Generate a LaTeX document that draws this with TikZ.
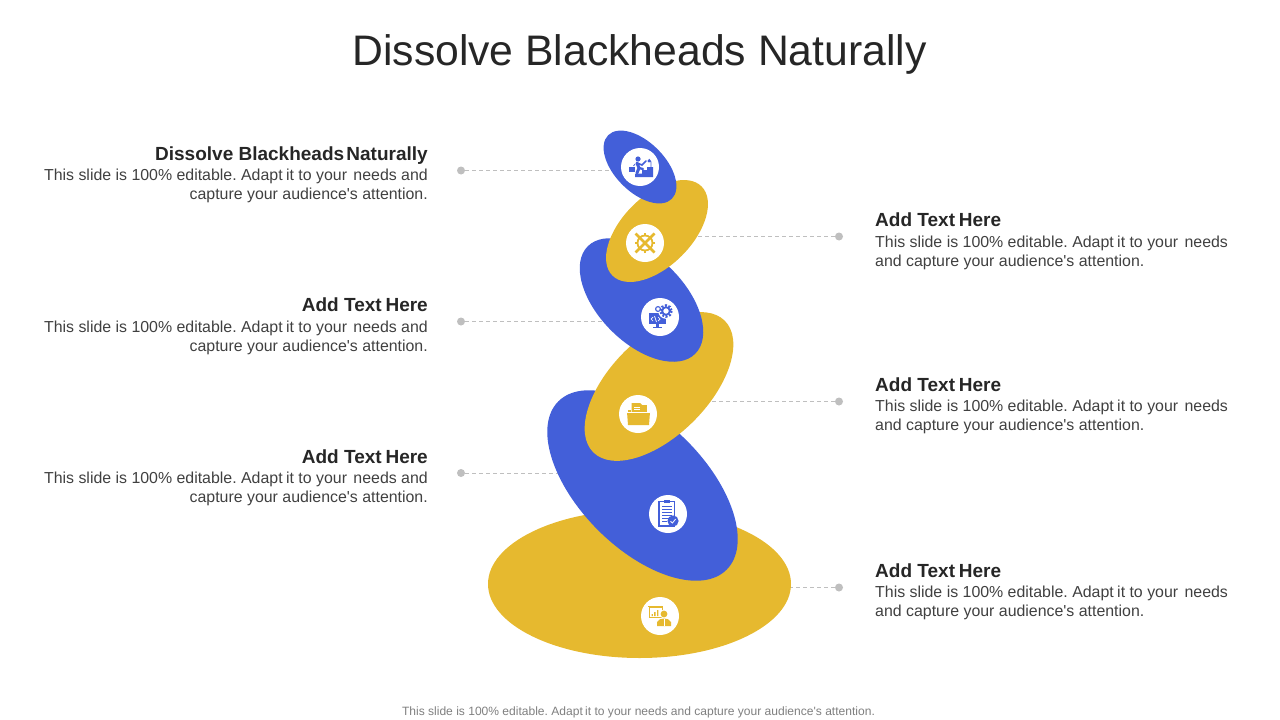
\documentclass[tikz,border=0pt]{standalone}
\usepackage{fontspec}
\setmainfont{Liberation Sans}
\newfontfamily\lib{Liberation Sans}
\usetikzlibrary{shapes.geometric,backgrounds}
\definecolor{bl}{HTML}{435FD9}
\definecolor{gd}{HTML}{E6B92F}
\definecolor{dotc}{HTML}{BFBFBF}
\definecolor{tit}{HTML}{262626}
\definecolor{bod}{HTML}{404040}
\definecolor{foot}{HTML}{7F7F7F}
\tikzset{
 blob/.style={ellipse,draw=none,inner sep=0pt,outer sep=0pt},
 disc/.style={circle,fill=white,draw=none,minimum size=38pt,inner sep=0pt},
 dotn/.style={circle,fill=dotc,draw=none,minimum size=8pt,inner sep=0pt},
 lead/.style={draw=dotc,line width=.8pt,dash pattern=on 4pt off 3pt},
 headl/.style={font=\lib\fontsize{19}{20}\selectfont\bfseries,text=tit,anchor=base east,inner sep=0pt},
 headr/.style={font=\lib\fontsize{19}{20}\selectfont\bfseries,text=tit,anchor=base west,inner sep=0pt},
 bodyl/.style={font=\lib\fontsize{15.9}{19.5}\selectfont\frenchspacing,text=bod,anchor=north east,align=right,inner sep=0pt},
 bodyr/.style={font=\lib\fontsize{15.9}{19.5}\selectfont\frenchspacing,text=bod,anchor=north west,align=left,inner sep=0pt},
}
\newcommand{\lineA}{This slide is 100\% editable. Adapt\kern-1pt{} it to your\kern2pt{} needs}
\newcommand{\hdr}{Add Text\kern-1.5pt{} Here}
\newcommand{\iconclimb}[1]{\begin{scope}[shift={(#1)},x=1pt,y=-1pt]
 \fill[bl] (-5,10)--(13,10)--(13,0)--(7,0)--(7,3)--(2,3)--(2,6.5)--(-5,6.5)--cycle;
 \fill[bl] (-2,-8) circle (2.6);
 \draw[bl,line width=3pt,line cap=round] (-3,-4)--(-1,1)--(-3,6);
 \draw[bl,line width=2.2pt,line cap=round] (-1,1)--(3,2);
 \draw[bl,line width=1.6pt,line cap=round] (-3,-4)--(2,-2)--(6,-6);
 \fill[bl] (-11,0) rectangle (-5,5);
 \draw[bl,line width=.8pt] (-6.5,-1)--(-5,-3);
 \fill[bl] (9,-6) circle (1.6);
 \draw[bl,line width=.9pt] (9,-8)--(11,-5)--(11,0);
\end{scope}}
\newcommand{\iconwheel}[1]{\begin{scope}[shift={(#1)},x=1pt,y=-1pt]
 \draw[gd,line width=1.8pt] (0,0) circle (7.5);
 \draw[gd,line width=2.6pt] (-9.5,-9.5)--(9.5,9.5) (9.5,-9.5)--(-9.5,9.5);
 \draw[gd,line width=2.2pt] (0,-10)--(0,-7.5) (0,10)--(0,7.5) (-10,0)--(-7.5,0) (10,0)--(7.5,0);
\end{scope}}
\newcommand{\iconcode}[1]{\begin{scope}[shift={(#1)},x=1pt,y=-1pt]
 \fill[bl] (-11,-4) rectangle (6,7);
 \fill[bl] (-4,7) rectangle (-1,9.5);
 \fill[bl] (-7,9.5) rectangle (2,10.7);
 \draw[white,line width=.7pt] (-7,0)--(-9,2)--(-7,4) (-2,0)--(0,2)--(-2,4) (-3.5,5)--(-5.5,-1);
 \fill[white] (6,-6) circle (7.8);
 \draw[bl,line width=2.8pt,dash pattern=on 1.8pt off 1.6pt] (6,-6) circle (5.4);
 \draw[bl,line width=1.8pt] (6,-6) circle (3.8);
 \draw[bl,line width=1.1pt] (-2,-8) circle (2.4);
\end{scope}}
\newcommand{\iconfolder}[1]{\begin{scope}[shift={(#1)},x=1pt,y=-1pt]
 \fill[gd] (-10,-4) rectangle (-7,6);
 \fill[gd] (-6.5,-11)--(2,-11)--(6,-7)--(6,-2)--(-6.5,-2)--cycle;
 \draw[white,line width=.7pt] (-4,-7)--(3,-7) (-4,-4.5)--(3,-4.5);
 \fill[gd] (2,-9) rectangle (9,-2);
 \fill[gd] (-11,-2)--(12,-2)--(11,11)--(-10,11)--cycle;
 \draw[white,line width=.7pt] (-11,-2)--(12,-2);
\end{scope}}
\newcommand{\iconclip}[1]{\begin{scope}[shift={(#1)},x=1pt,y=-1pt]
 \draw[bl,line width=1.5pt,fill=white] (-9,-12.5) rectangle (6.5,12);
 \fill[bl] (-4.5,-14.5) rectangle (2,-11);
 \draw[bl,line width=.9pt] (-6,-8)--(4,-8) (-6,-5)--(4,-5) (-6,-2)--(4,-2) (-6,1)--(4,1) (-6,4)--(1,4) (-6,7)--(-1,7);
 \fill[bl] (5,7) circle (5.6);
 \draw[white,line width=.8pt] (2.5,7.3)--(4.4,9)--(7.6,5);
\end{scope}}
\newcommand{\iconboard}[1]{\begin{scope}[shift={(#1)},x=1pt,y=-1pt]
 \draw[gd,line width=1pt] (-11,-9) rectangle (2,1);
 \fill[gd] (-12,-10.5) rectangle (3,-9);
 \fill[gd] (-8.5,-2) rectangle (-7.2,0) (-5.8,-4) rectangle (-4.5,0) (-3,-6) rectangle (-1.7,0);
 \fill[white] (4,-2) circle (4.4);
 \fill[gd] (4,-2) circle (3.4);
 \fill[gd] (-3,10)--(-3,6)..controls (-2,3.5) and (1,2.5) .. (4,2.5)..controls (7,2.5) and (10,3.5) .. (11,6)--(11,10)--cycle;
 \draw[white,line width=.7pt] (4,3)--(4,10);
\end{scope}}
\begin{document}
\begin{tikzpicture}[x=1pt,y=-1pt]
\useasboundingbox (0,0) rectangle (1280,720);
\node[inner sep=0pt,font=\lib\fontsize{42.7}{46}\selectfont,text=tit,anchor=base] (title) at (639.5,65) {Dissolve Blackheads Naturally};
% blobs, bottom to top
\node[blob,fill=gd,minimum width=303pt,minimum height=148pt] (e6) at (639.5,584) {};
\node[blob,fill=bl,minimum width=238pt,minimum height=126pt,rotate=-45] (e5) at (642.5,485.5) {};
\node[blob,fill=gd,minimum width=186pt,minimum height=98pt,rotate=45] (e4) at (659,386.5) {};
\node[blob,fill=bl,minimum width=152pt,minimum height=86pt,rotate=-45] (e3) at (641.5,300) {};
\node[blob,fill=gd,minimum width=126pt,minimum height=70pt,rotate=45] (e2) at (657,231) {};
\node[blob,fill=bl,minimum width=90pt,minimum height=50pt,rotate=-45] (e1) at (640,167) {};
% icon discs
\node[disc] (c1) at (640,167) {};
\node[disc] (c2) at (645,243) {};
\node[disc] (c3) at (660,317) {};
\node[disc] (c4) at (638,414) {};
\node[disc] (c5) at (668,514) {};
\node[disc] (c6) at (660,616) {};
\iconclimb{c1}
\iconwheel{c2}
\iconcode{c3}
\iconfolder{c4}
\iconclip{c5}
\iconboard{c6}
% leaders
\node[dotn] (d1) at (461,170.5) {};
\node[dotn] (d2) at (839,236.5) {};
\node[dotn] (d3) at (461,321.5) {};
\node[dotn] (d4) at (839,401.5) {};
\node[dotn] (d5) at (461,473) {};
\node[dotn] (d6) at (839,587.5) {};
\begin{pgfonlayer}{background}
\draw[lead] (d1) -- (d1 -| e1);
\draw[lead] (d2) -- (d2 -| e2);
\draw[lead] (d3) -- (d3 -| e3);
\draw[lead] (d4) -- (d4 -| e4);
\draw[lead] (d5) -- (d5 -| e5);
\draw[lead] (d6) -- (d6 -| e6);
\end{pgfonlayer}
% texts
\node[headl] (h1) at (428,160.5) {Dissolve Blackheads\kern-3pt{} Naturally};
\node[bodyl] (b1) at (428,168.5) {\lineA{} and\\capture your audience's attention.};
\node[headl] (h3) at (428,311.5) {\hdr};
\node[bodyl] (b3) at (428,320.5) {\lineA{} and\\capture your audience's attention.};
\node[headl] (h5) at (428,463) {\hdr};
\node[bodyl] (b5) at (428,471.5) {\lineA{} and\\capture your audience's attention.};
\node[headr] (h2) at (875,226.5) {\hdr};
\node[bodyr] (b2) at (875,235.5) {\lineA\\and capture your audience's attention.};
\node[headr] (h4) at (875,391.5) {\hdr};
\node[bodyr] (b4) at (875,399.5) {\lineA\\and capture your audience's attention.};
\node[headr] (h6) at (875,577) {\hdr};
\node[bodyr] (b6) at (875,585.5) {\lineA\\and capture your audience's attention.};
\node[inner sep=0pt,font=\lib\fontsize{12.05}{14}\selectfont\frenchspacing,text=foot,anchor=base] (ft) at (638.5,715) {This slide is 100\% editable. Adapt\kern-1pt{} it to your needs and capture your audience's attention.};
\end{tikzpicture}
\end{document}
